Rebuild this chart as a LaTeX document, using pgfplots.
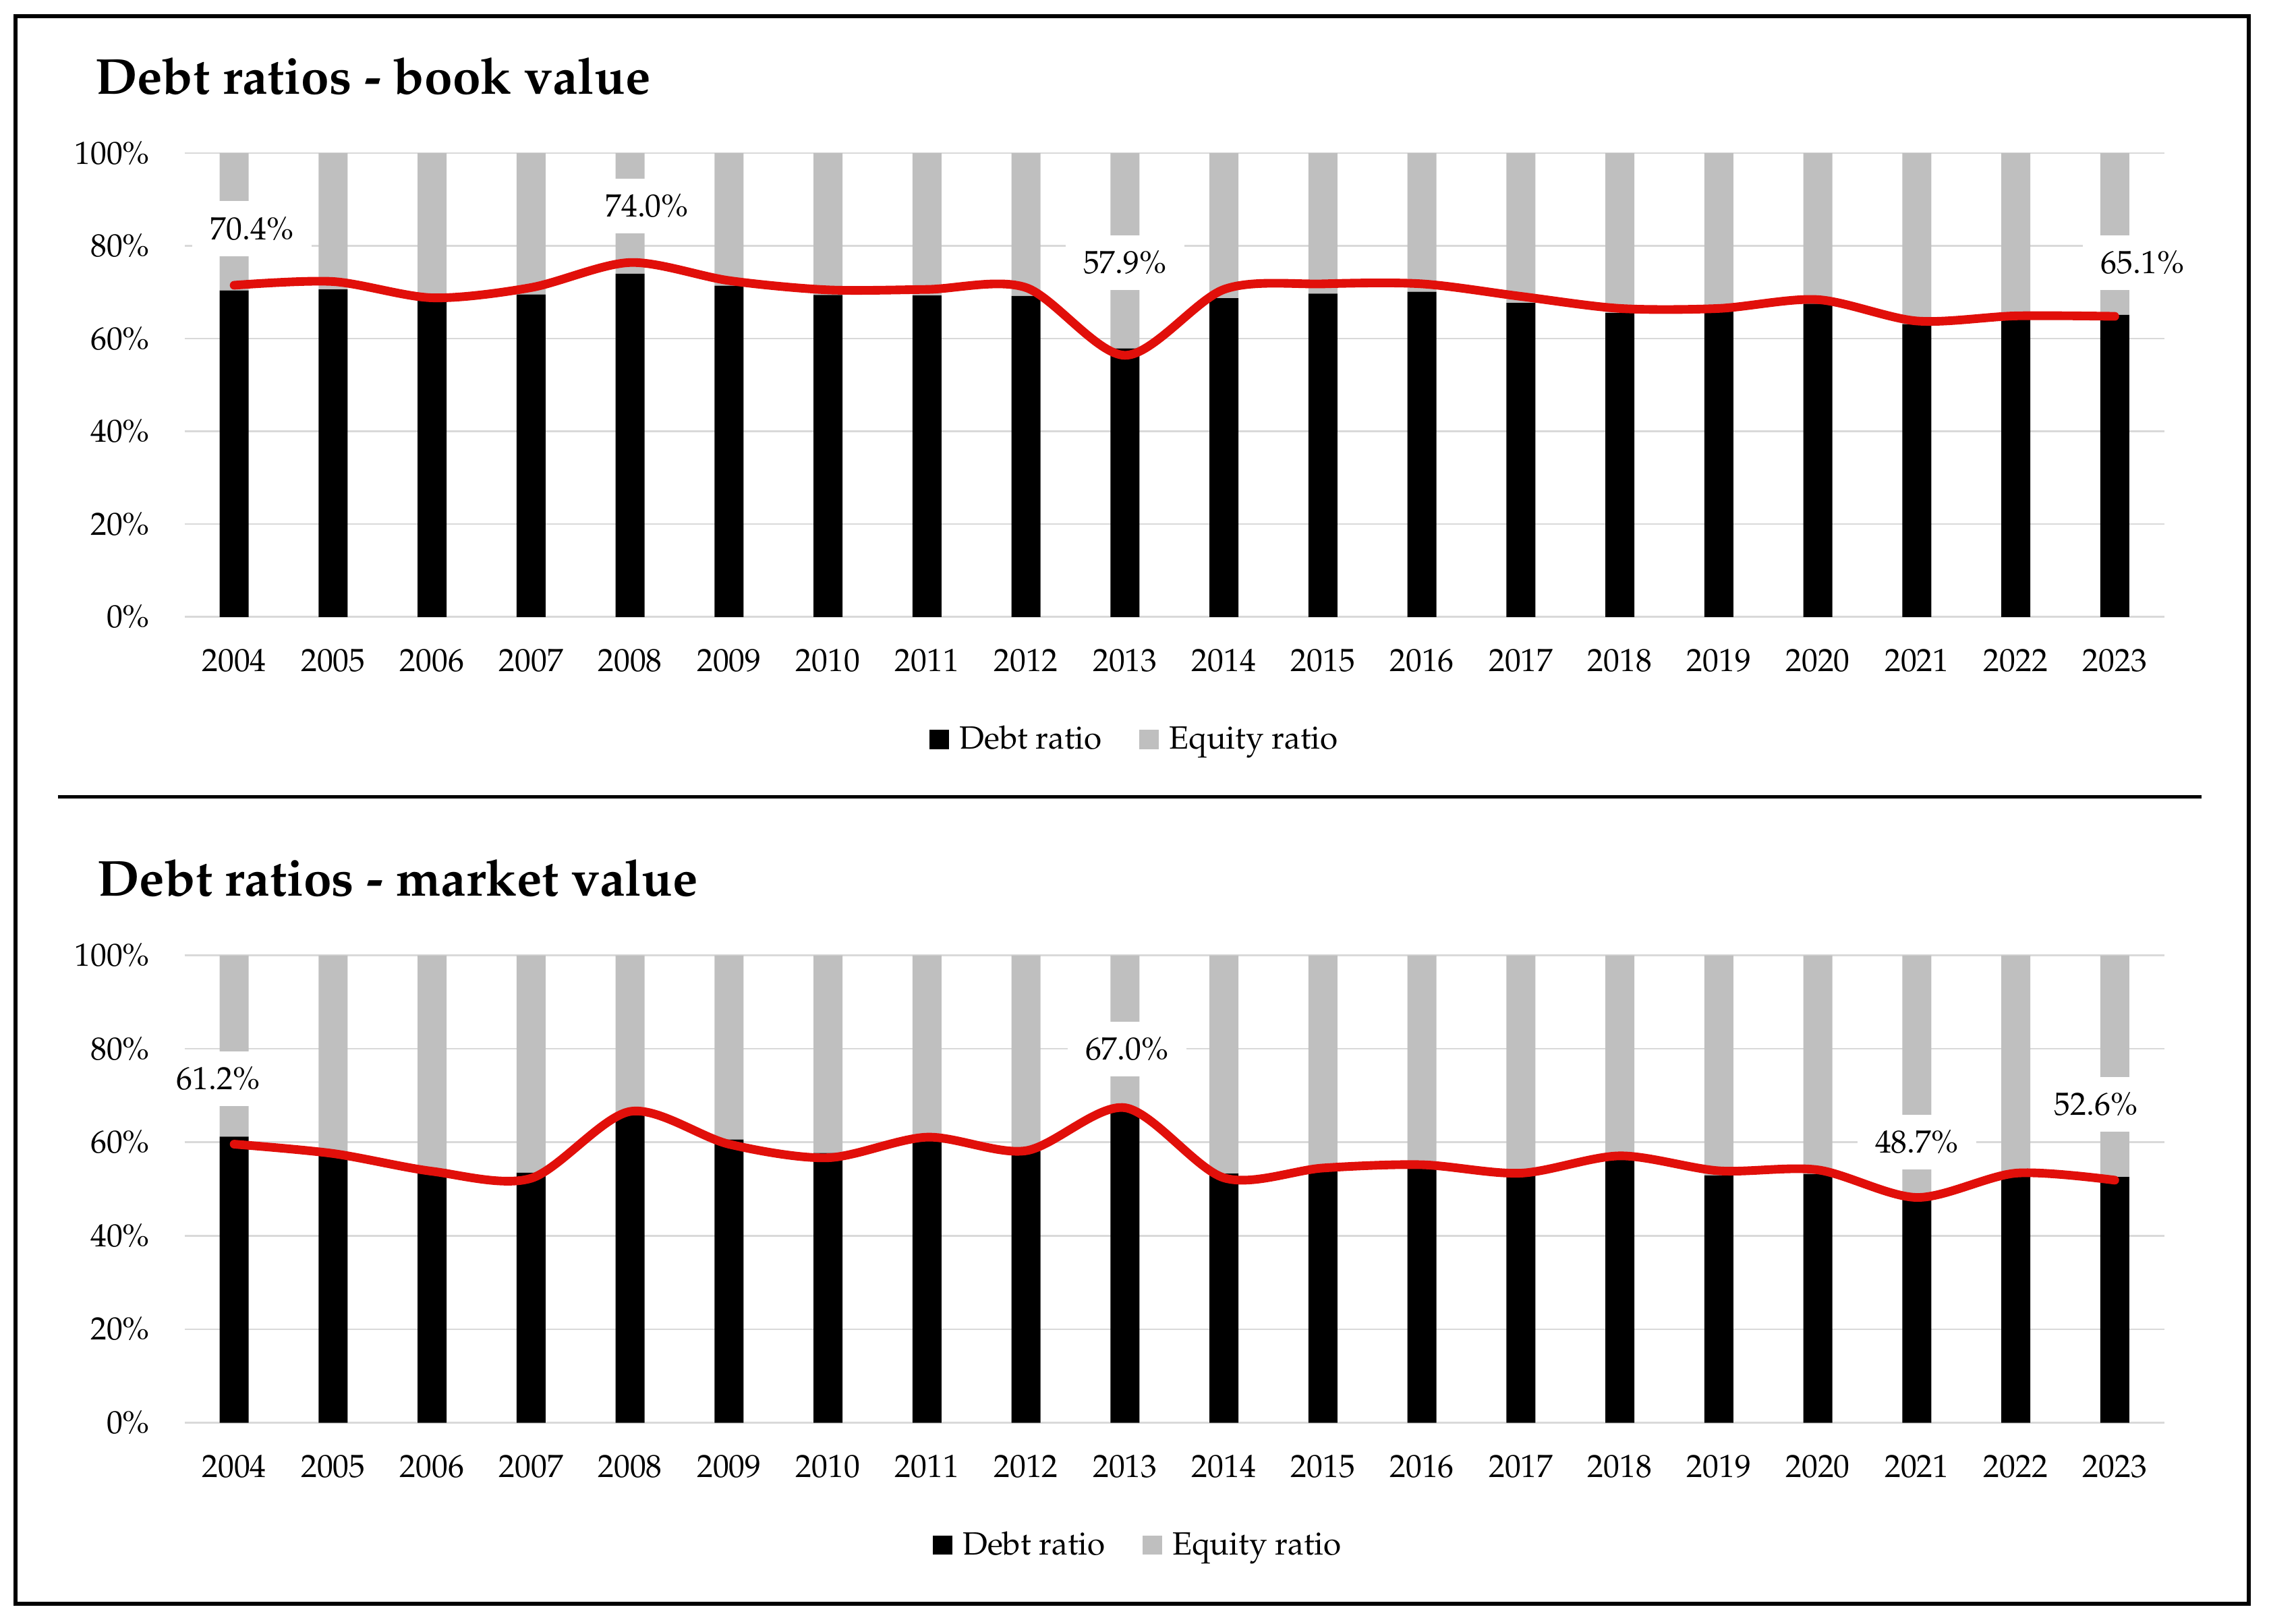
\documentclass[border=0pt]{standalone}
\usepackage[T1]{fontenc}
\usepackage{mathpazo}
\usepackage{pgfplots}
\pgfplotsset{compat=1.18}
\usepackage{pgfplotstable}
\definecolor{bargray}{RGB}{191,191,191}
\definecolor{gridgray}{RGB}{217,217,217}
\definecolor{linered}{RGB}{225,15,10}
\newcommand\tickfont{\fontsize{11.1}{13}\selectfont}
\newcommand\titlefont{\fontsize{17.45}{20}\selectfont\bfseries}

\pgfplotstableread{
x debt equity trend
0 70.4 29.6 71.5
1 70.6 29.4 72.3
2 68.4 31.6 68.8
3 69.5 30.5 71.0
4 74.0 26.0 76.4
5 71.4 28.6 72.5
6 69.4 30.6 70.5
7 69.3 30.7 70.6
8 69.2 30.8 71.0
9 57.9 42.1 56.4
10 68.7 31.3 70.6
11 69.7 30.3 71.8
12 70.1 29.9 71.8
13 67.7 32.3 69.1
14 65.5 34.5 66.5
15 65.8 34.2 66.5
16 67.5 32.5 68.4
17 63.1 36.9 63.8
18 64.2 35.8 64.9
19 65.1 34.9 64.8
}\bookdata

\pgfplotstableread{
x debt equity trend
0 61.2 38.8 59.6
1 58.0 42.0 57.6
2 54.3 45.7 53.8
3 53.5 46.5 52.3
4 66.3 33.7 66.6
5 60.6 39.4 59.6
6 57.7 42.3 56.7
7 60.4 39.6 61.1
8 58.2 41.8 58.2
9 67.0 33.0 67.4
10 53.3 46.7 52.4
11 54.9 45.1 54.5
12 54.5 45.5 55.2
13 52.9 47.1 53.4
14 56.4 43.6 57.1
15 52.9 47.1 53.9
16 53.2 46.8 54.1
17 48.7 51.3 48.2
18 53.2 46.8 53.4
19 52.6 47.4 51.9
}\marketdata

\tikzset{lbl/.style={fill=white, inner xsep=6.2pt, inner ysep=5.5pt, font=\tickfont}}

\pgfplotsset{
  chartbase/.style={
    scale only axis, width=684pt,
    xmin=-0.5, xmax=19.5, ymin=0, ymax=100, enlargelimits=false,
    axis line style={draw=none}, tick style={draw=none},
  },
  sqlegend/.style={legend image code/.code={\fill[##1,draw=none] (0pt,-2.5pt) rectangle (6.8pt,4.1pt);}},
  barchart/.style={chartbase,
    ybar stacked, bar width=10pt,
    ymajorgrids, grid style={gridgray, line width=0.6pt},
    xtick={0,...,19},
    xticklabels={2004,2005,2006,2007,2008,2009,2010,2011,2012,2013,2014,2015,2016,2017,2018,2019,2020,2021,2022,2023},
    ytick={0,20,40,60,80,100},
    yticklabel={\pgfmathprintnumber{\tick}\%},
    xticklabel style={anchor=base, inner sep=0pt, yshift=-18.9pt, font=\tickfont},
    yticklabel style={anchor=east, inner sep=0pt, xshift=-11.9pt, font=\tickfont},
    sqlegend,
    legend cell align=left,
    legend style={draw=none, fill=none, legend columns=2, font=\tickfont,
      inner sep=0pt, outer sep=0pt,
      nodes={inner sep=0pt, text height=7.6pt, text depth=2.6pt},
      /tikz/every odd column/.append style={column sep=3.6pt},
      /tikz/every even column/.append style={column sep=12.8pt}},
  },
  linechart/.style={chartbase, hide axis, clip=false},
}

\begin{document}
\begin{tikzpicture}
\useasboundingbox (0,0) rectangle (784pt,561pt);
% outer frame and separator
\draw[line width=1.4pt] (5.4pt,6.75pt) rectangle (777.1pt,555.5pt);
\draw[line width=1.2pt] (20pt,285.6pt) -- (760.75pt,285.6pt);

% titles
\node[anchor=base west, inner sep=0pt, font=\titlefont] at (32.7pt,528.55pt) {Debt ratios - book value};
\node[anchor=base west, inner sep=0pt, font=\titlefont] at (33.5pt,251.3pt) {Debt ratios - market value};

% ---------- top chart: book value ----------
\begin{axis}[barchart, at={(63.8pt,347.8pt)}, anchor=south west, height=160.3pt,
  legend style={at={(0.4794,-0.2692)}, anchor=center}]
\addplot[fill=black, draw=none, sqlegend] table[x=x, y=debt] {\bookdata};
\addlegendentry{Debt ratio}
\addplot[fill=bargray, draw=none, sqlegend] table[x=x, y=equity] {\bookdata};
\addlegendentry{Equity ratio}
\end{axis}
\begin{axis}[linechart, at={(63.8pt,347.8pt)}, anchor=south west, height=160.3pt]
\addplot[linered, line width=3pt, smooth, line cap=round, no marks] table[x=x, y=trend] {\bookdata};
\node[lbl] at (axis cs:0.18,83.7) {70.4\%};
\node[lbl] at (axis cs:4.17,88.6) {74.0\%};
\node[lbl] at (axis cs:9.0,76.4) {57.9\%};
\node[lbl] at (axis cs:19.28,76.4) {65.1\%};
\end{axis}

% ---------- bottom chart: market value ----------
\begin{axis}[barchart, at={(63.8pt,69.35pt)}, anchor=south west, height=161.5pt,
  legend style={at={(0.481,-0.2672)}, anchor=center}]
\addplot[fill=black, draw=none, sqlegend] table[x=x, y=debt] {\marketdata};
\addlegendentry{Debt ratio}
\addplot[fill=bargray, draw=none, sqlegend] table[x=x, y=equity] {\marketdata};
\addlegendentry{Equity ratio}
\end{axis}
\begin{axis}[linechart, at={(63.8pt,69.35pt)}, anchor=south west, height=161.5pt]
\addplot[linered, line width=3pt, smooth, line cap=round, no marks] table[x=x, y=trend] {\marketdata};
\node[lbl] at (axis cs:-0.16,73.6) {61.2\%};
\node[lbl] at (axis cs:9.02,79.9) {67.0\%};
\node[lbl] at (axis cs:17.0,60.0) {48.7\%};
\node[lbl] at (axis cs:18.81,68.1) {52.6\%};
\end{axis}
\end{tikzpicture}
\end{document}
